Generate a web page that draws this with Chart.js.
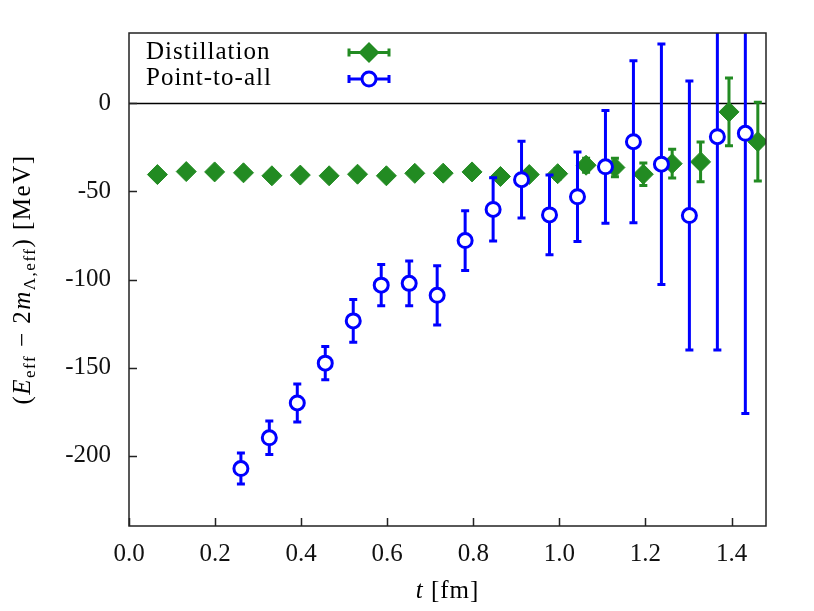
<!DOCTYPE html>
<html>
<head>
<meta charset="utf-8">
<script src="https://cdn.jsdelivr.net/npm/chart.js@4"></script>
<style>
  html, body { margin: 0; padding: 0; background: #fff; }
  canvas { display: block; }
</style>
</head>
<body>
<canvas id="c" width="814" height="611"></canvas>
<script>
// ---- data ----
const distT   = [0.066, 0.133, 0.199, 0.266, 0.332, 0.398, 0.465, 0.531, 0.598, 0.664, 0.730,
                 0.797, 0.863, 0.930, 0.996, 1.062, 1.129, 1.195, 1.262, 1.328, 1.394, 1.461];
const distE   = [-40.4, -38.7, -38.9, -39.4, -41.1, -40.7, -41.1, -40.2, -41.1, -39.7, -39.6,
                 -38.9, -41.5, -40.4, -39.9, -35.1, -36.4, -40.2, -34.2, -33.2, -4.8, -21.7];
const distErr = [0.5, 0.6, 0.7, 0.8, 0.9, 1.0, 1.1, 1.2, 1.4, 1.6, 1.8,
                 2.0, 2.2, 2.5, 3.0, 4.0, 5.3, 6.4, 8.2, 11.3, 19.2, 22.4];

const p2aT    = [0.260, 0.326, 0.391, 0.456, 0.521, 0.586, 0.651, 0.716, 0.781, 0.846,
                 0.912, 0.977, 1.042, 1.107, 1.172, 1.237, 1.302, 1.367, 1.432];
const p2aE    = [-207.4, -189.9, -170.1, -147.5, -123.5, -103.2, -102.2, -109.0, -77.9, -60.2,
                 -43.3, -63.3, -53.0, -36.0, -21.7, -34.5, -63.7, -18.9, -17.0];
const p2aErr  = [8.8, 9.5, 10.8, 9.5, 12.2, 11.7, 12.7, 16.8, 17.0, 18.0,
                 21.8, 22.6, 25.4, 32.0, 46.0, 68.3, 76.4, 121.2, 159.1];

const xTicks = [0.0, 0.2, 0.4, 0.6, 0.8, 1.0, 1.2, 1.4];
const yTicks = [-200, -150, -100, -50, 0];
const seriesNames = ['Distillation', 'Point-to-all'];

const GREEN = '#228b22';
const BLUE = '#0000ff';
const AXIS = '#222222';
const FONT = '"Liberation Serif", "Times New Roman", serif';
const FS = 25;

const toPts = (xs, ys) => xs.map((x, i) => ({ x: x, y: ys[i] }));

const errorBars = {
  id: 'errorBars',
  beforeDatasetsDraw(chart) {
    const { ctx, chartArea: a, scales: { y } } = chart;
    ctx.save();
    ctx.strokeStyle = '#000';
    ctx.lineWidth = 1.5;
    const y0 = Math.round(y.getPixelForValue(0)) + 0.5;
    ctx.beginPath();
    ctx.moveTo(a.left, y0);
    ctx.lineTo(a.right, y0);
    ctx.stroke();
    ctx.restore();
  },
  beforeDatasetDraw(chart, args) {
    const ds = chart.data.datasets[args.index];
    const errs = ds.errors;
    if (!errs) return;
    const { ctx, chartArea: a, scales: { x, y } } = chart;
    ctx.save();
    ctx.beginPath();
    ctx.rect(a.left, a.top, a.right - a.left, a.bottom - a.top);
    ctx.clip();
    ctx.strokeStyle = ds.pointBorderColor;
    ctx.lineWidth = 3;
    ctx.lineCap = 'butt';
    ds.data.forEach((p, i) => {
      const px = x.getPixelForValue(p.x);
      const y1 = y.getPixelForValue(p.y + errs[i]);
      const y2 = y.getPixelForValue(p.y - errs[i]);
      ctx.beginPath();
      ctx.moveTo(px, y1); ctx.lineTo(px, y2);
      ctx.moveTo(px - 4, y1); ctx.lineTo(px + 4, y1);
      ctx.moveTo(px - 4, y2); ctx.lineTo(px + 4, y2);
      ctx.stroke();
    });
    ctx.restore();
  },
  afterDatasetsDraw(chart) {
    const { ctx, chartArea: a, scales: { x, y } } = chart;
    ctx.save();
    ctx.strokeStyle = AXIS;
    ctx.lineWidth = 1.5;
    ctx.strokeRect(a.left, a.top, a.right - a.left, a.bottom - a.top);
    ctx.beginPath();
    xTicks.forEach(v => {
      const px = Math.round(x.getPixelForValue(v)) + 0.5;
      ctx.moveTo(px, a.bottom); ctx.lineTo(px, a.bottom - 8);
    });
    yTicks.forEach(v => {
      const py = Math.round(y.getPixelForValue(v)) + 0.5;
      ctx.moveTo(a.left, py); ctx.lineTo(a.left + 8, py);
    });
    ctx.stroke();
    ctx.restore();
  },
  afterDraw(chart) {
    const { ctx, chartArea: a } = chart;
    ctx.save();
    ctx.fillStyle = '#000';
    // legend
    ctx.font = FS + 'px ' + FONT;
    ctx.letterSpacing = '1px';
    ctx.textBaseline = 'alphabetic';
    ctx.textAlign = 'left';
    ctx.fillText(seriesNames[0], 146, 59);
    ctx.fillText(seriesNames[1], 146, 85);
    ctx.letterSpacing = '0px';
    const drawSample = (yy, color, kind) => {
      ctx.strokeStyle = color;
      ctx.lineWidth = 3;
      ctx.beginPath();
      ctx.moveTo(349, yy); ctx.lineTo(389, yy);
      ctx.moveTo(349, yy - 4); ctx.lineTo(349, yy + 4);
      ctx.moveTo(389, yy - 4); ctx.lineTo(389, yy + 4);
      ctx.stroke();
      ctx.beginPath();
      if (kind === 'diamond') {
        ctx.fillStyle = color;
        ctx.moveTo(369, yy - 10.5); ctx.lineTo(379.5, yy); ctx.lineTo(369, yy + 10.5); ctx.lineTo(358.5, yy);
        ctx.closePath();
        ctx.fill();
      } else {
        ctx.fillStyle = '#fff';
        ctx.arc(369, yy, 7, 0, Math.PI * 2);
        ctx.fill();
        ctx.stroke();
      }
    };
    drawSample(52.5, GREEN, 'diamond');
    drawSample(79, BLUE, 'circle');

    // x title: t [fm]
    ctx.fillStyle = '#000';
    ctx.letterSpacing = '1px';
    const xt1 = 't', xt2 = ' [fm]';
    ctx.font = 'italic ' + FS + 'px ' + FONT;
    const w1 = ctx.measureText(xt1).width;
    ctx.font = FS + 'px ' + FONT;
    const w2 = ctx.measureText(xt2).width;
    const cx = (a.left + a.right) / 2;
    let sx = cx - (w1 + w2) / 2;
    ctx.font = 'italic ' + FS + 'px ' + FONT;
    ctx.fillText(xt1, sx, 598);
    ctx.font = FS + 'px ' + FONT;
    ctx.fillText(xt2, sx + w1, 598);

    // y title
    ctx.letterSpacing = '1.5px';
    const SUB = 17;
    const segs = [
      { t: '(', it: false, sub: false },
      { t: 'E', it: true, sub: false },
      { t: 'eff', it: false, sub: true },
      { t: ' \u2212 2', it: false, sub: false },
      { t: 'm', it: true, sub: false },
      { t: '\u039b,eff', it: false, sub: true },
      { t: ')', it: false, sub: false },
      { t: ' [MeV]', it: false, sub: false }
    ];
    const fontOf = s => (s.it ? 'italic ' : '') + (s.sub ? SUB : FS) + 'px ' + FONT;
    let total = 0;
    segs.forEach(s => { ctx.font = fontOf(s); s.w = ctx.measureText(s.t).width; total += s.w; });
    ctx.translate(30, (a.top + a.bottom) / 2);
    ctx.rotate(-Math.PI / 2);
    let px = -total / 2;
    segs.forEach(s => {
      ctx.font = fontOf(s);
      ctx.fillText(s.t, px, s.sub ? 5 : 0);
      px += s.w;
    });
    ctx.restore();
  }
};

new Chart(document.getElementById('c'), {
  type: 'scatter',
  data: {
    datasets: [
      {
        label: seriesNames[1],
        data: toPts(p2aT, p2aE),
        errors: p2aErr,
        showLine: false,
        pointStyle: 'circle',
        pointRadius: 7,
        pointBorderWidth: 3,
        pointBorderColor: BLUE,
        pointBackgroundColor: '#ffffff',
        borderColor: BLUE,
        backgroundColor: '#ffffff'
      },
      {
        label: seriesNames[0],
        data: toPts(distT, distE),
        errors: distErr,
        showLine: false,
        pointStyle: 'rectRot',
        pointRadius: 10,
        pointBorderWidth: 1,
        pointBorderColor: GREEN,
        pointBackgroundColor: GREEN,
        borderColor: GREEN,
        backgroundColor: GREEN
      }
    ]
  },
  options: {
    responsive: false,
    animation: false,
    events: [],
    layout: { padding: { left: 0, right: 48, top: 32, bottom: 35 } },
    plugins: { legend: { display: false }, tooltip: { enabled: false }, title: { display: false } },
    scales: {
      x: {
        type: 'linear',
        min: 0,
        max: 1.48,
        afterBuildTicks: s => { s.ticks = xTicks.map(v => ({ value: v })); },
        afterFit: s => { s.height = 50; },
        grid: { display: false, drawTicks: false },
        border: { display: false },
        ticks: {
          padding: 13,
          autoSkip: false,
          maxRotation: 0,
          color: '#111',
          font: { family: FONT, size: FS },
          callback: v => Number(v).toFixed(1)
        }
      },
      y: {
        type: 'linear',
        min: -240,
        max: 40,
        afterBuildTicks: s => { s.ticks = yTicks.map(v => ({ value: v })); },
        afterFit: s => { s.width = 129; },
        grid: { display: false, drawTicks: false },
        border: { display: false },
        ticks: {
          padding: 18,
          autoSkip: false,
          color: '#111',
          font: { family: FONT, size: FS },
          callback: v => String(v)
        }
      }
    }
  },
  plugins: [errorBars]
});
</script>
</body>
</html>
